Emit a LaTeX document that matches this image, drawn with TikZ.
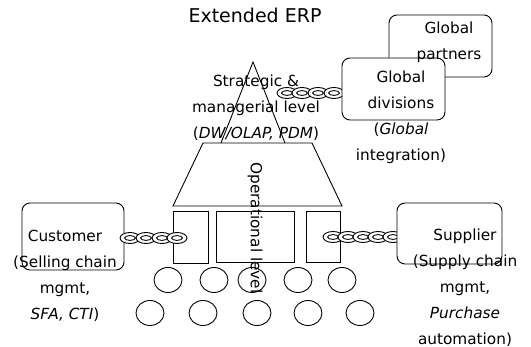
\documentclass[tikz,border=0pt]{standalone}
\usepackage{fontspec}
\setmainfont{DejaVu Sans}
\usetikzlibrary{shapes.geometric}
\begin{document}
\begin{tikzpicture}[x=1pt,y=-1pt,line width=0.9pt,
  rbox/.style={draw,rounded corners=8pt,fill=white,inner sep=0pt},
  modbox/.style={draw,inner sep=0pt},
  unit/.style={draw,ellipse,inner sep=0pt,minimum width=28pt,minimum height=25pt},
  lbl/.style={align=center,inner sep=0pt,font=\fontsize{15.3}{26}\selectfont},
  ringlink/.pic={\draw[fill=white] (0,0) ellipse (10pt and 5.5pt); \draw (0,0) ellipse (5.5pt and 2.4pt);}]
\useasboundingbox (0,0) rectangle (531,347);
% pyramid
\coordinate (apex) at (253,62);
\coordinate (tl) at (221,143);
\coordinate (tr) at (285,143);
\coordinate (ql) at (203,143);
\coordinate (qr) at (312,143);
\coordinate (bl) at (173,206);
\coordinate (br) at (342,206);
\draw (tl) -- (apex) -- (tr);
\draw (bl) -- (ql) -- (qr) -- (br) -- cycle;
% modules
\node[modbox,minimum width=35pt,minimum height=52pt] (m1) at (190.5,237) {};
\node[modbox,minimum width=78pt,minimum height=51pt] (m2) at (255,236.5) {};
\node[modbox,minimum width=34pt,minimum height=51pt] (m3) at (323,236.5) {};
% units
\foreach \x [count=\i] in {168,214,252,298,342}
  \node[unit] (u\i) at (\x,280) {};
\foreach \x [count=\i] in {150,203,257,308,360}
  \node[unit] (v\i) at (\x,313) {};
% global partners / divisions
\node[rbox,minimum width=103pt,minimum height=62pt] (gp) at (440.5,46) {};
\foreach \x in {287,302,318,334} \pic at (\x,93) {ringlink};
\node[rbox,minimum width=103pt,minimum height=62pt] (gd) at (393.5,89) {};
% customer
\node[rbox,minimum width=102pt,minimum height=67pt] (cb) at (73,236.5) {};
\foreach \x in {130,146,162,177} \pic at (\x,238) {ringlink};
% supplier
\foreach \x in {333,348,363,378,393} \pic at (\x,237) {ringlink};
\node[rbox,minimum width=105pt,minimum height=61pt] (sb) at (449.5,233.5) {};
% texts
\node[inner sep=0pt,font=\fontsize{19}{22}\selectfont] (title) at (255,15) {Extended ERP};
\node[lbl] (strat) at (256,107.5) {Strategic \&\\managerial level\\(\textit{DW/OLAP, PDM})};
\node[lbl] (gpt) at (449,42.5) {Global\\partners};
\node[lbl] (gdt) at (401,117.5) {Global\\divisions\\(\textit{Global}\\integration)};
\node[lbl] (ct) at (65,275.5) {Customer\\(Selling chain\\mgmt,\\\textit{SFA, CTI})};
\node[lbl] (st) at (465,287.5) {Supplier\\(Supply chain\\mgmt,\\\textit{Purchase}\\automation)};
\node[lbl,rotate=-90] (op) at (255,228) {Operational level};
\end{tikzpicture}
\end{document}
